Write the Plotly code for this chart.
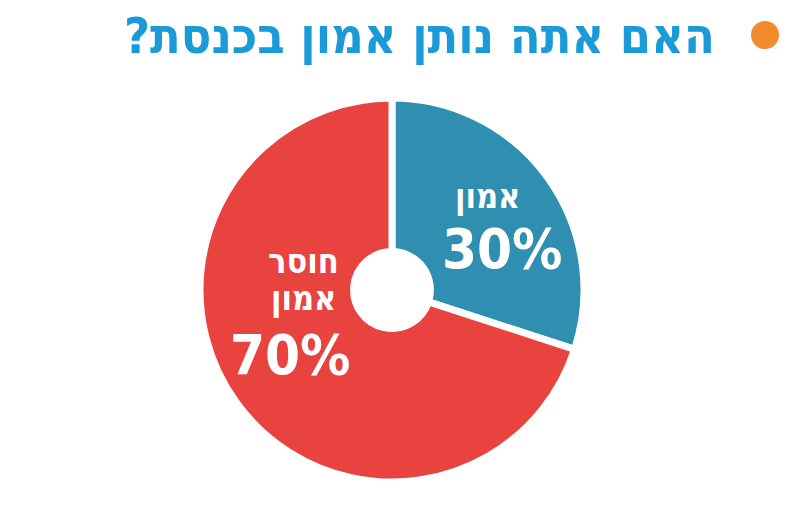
import plotly.graph_objects as go

labels = ["אמון", "חוסר אמון"]
values = [30, 70]
colors = ["#2e8fb1", "#e8433f"]
title_text = "האם אתה נותן אמון בכנסת?"

FONT = "DejaVu Sans Condensed, DejaVu Sans, sans-serif"
W, H, OFF = 800, 521, 8  # page body margin offsets the figure by 8px


def px(x):
    return (x - OFF) / W


def py(y):
    return 1 - (y - OFF) / H


fig = go.Figure(go.Pie(
    labels=labels,
    values=values,
    marker=dict(colors=colors, line=dict(color="white", width=7)),
    hole=0.2,
    sort=False,
    direction="clockwise",
    rotation=0,
    textinfo="none",
    hoverinfo="label+percent",
    showlegend=False,
    domain=dict(x=[px(200), px(584)], y=[py(482), py(98)]),
))

ann = []


def add(text, x, y, size):
    ann.append(dict(text=text, x=px(x), y=py(y), xref="paper", yref="paper",
                    xanchor="center", yanchor="middle", showarrow=False,
                    font=dict(family=FONT, size=size, color="white")))


add(f"<b>{labels[0]}</b>", 487, 196, 34)
add(f"<b>{values[0]}%</b>", 502, 249, 56)
add("<b>חוסר</b>", 303, 261, 34)
add("<b>אמון</b>", 303, 298, 34)
add(f"<b>{values[1]}%</b>", 290, 354, 56)

ann.append(dict(text=f"<b>{title_text}\u200f</b>", x=px(717), y=py(36), xref="paper", yref="paper",
                xanchor="right", yanchor="middle", showarrow=False,
                font=dict(family=FONT, size=50, color="#1b9ad8")))

fig.update_layout(
    width=W, height=H,
    margin=dict(l=0, r=0, t=0, b=0),
    paper_bgcolor="white", plot_bgcolor="white",
    annotations=ann,
    shapes=[dict(type="circle", xref="paper", yref="paper",
                 x0=px(751), x1=px(779), y0=py(49), y1=py(21),
                 fillcolor="#f28b2c", line=dict(width=0))],
)

fig.write_html("out.html")
